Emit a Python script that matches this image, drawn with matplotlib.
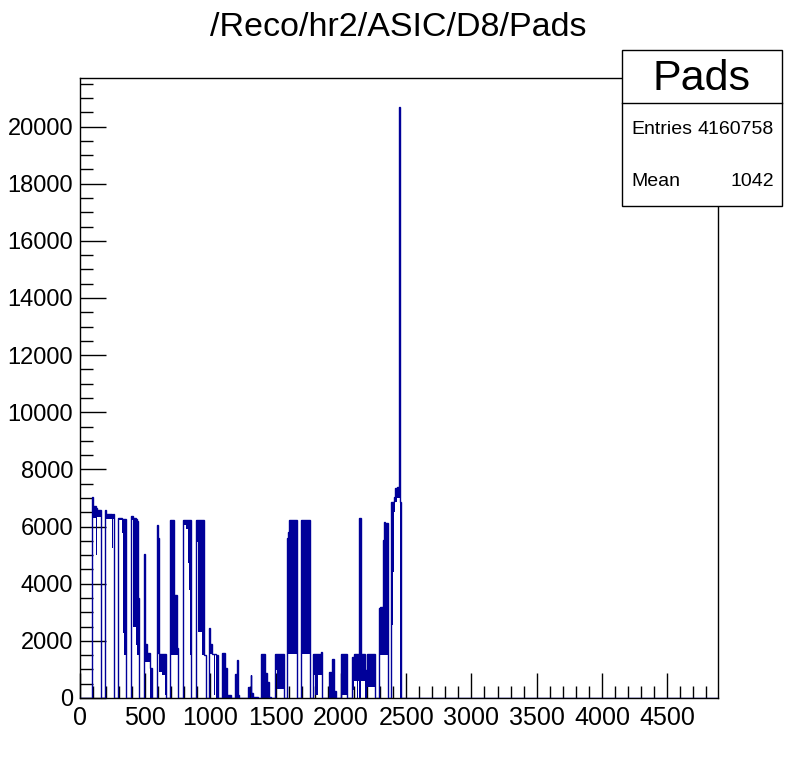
import numpy as np
import matplotlib
matplotlib.use("Agg")
import matplotlib.pyplot as plt
from matplotlib.patches import Rectangle
from matplotlib.lines import Line2D
from matplotlib.ticker import MultipleLocator

plt.rcParams['font.family'] = ['Liberation Sans', 'DejaVu Sans']

title = "/Reco/hr2/ASIC/D8/Pads"
stats_name = "Pads"
entries = "4160758"
mean = "1042"

# Runs of the histogram: [start, end) in pad units,
# upper and lower envelope of the (dense) bin contents inside each run
run_start = [0, 94, 97, 122, 127, 159, 192, 196, 243, 250, 259, 294, 320, 328, 338, 351,
             394, 409, 427, 440, 447, 455, 494, 499, 517, 520, 524, 537, 555, 593, 597, 606,
             625, 629, 655, 660, 693, 724, 744, 754, 791, 811, 827, 839, 844, 852, 890, 908,
             934, 954, 962, 990, 995, 1010, 1025, 1031, 1041, 1057, 1090, 1115, 1128, 1159,
             1190, 1200, 1210, 1218, 1287, 1295, 1307, 1312, 1325, 1364, 1389, 1420, 1435,
             1450, 1461, 1491, 1512, 1563, 1589, 1596, 1603, 1665, 1691, 1760, 1788, 1800,
             1828, 1845, 1857, 1909, 1921, 1934, 1947, 1959, 1998, 2049, 2088, 2100, 2121,
             2134, 2141, 2151, 2185, 2203, 2264, 2289, 2300, 2320, 2328, 2338, 2346, 2359,
             2385, 2397, 2410, 2418, 2433, 2443, 2454, 2464]
x_max = 4890
run_high = [0, 7040, 6720, 6650, 6580, 0, 6576, 6450, 6420, 6430, 0, 6300, 6280, 6280, 6250, 0,
            6366, 6300, 6250, 6200, 3486, 0, 5037, 1890, 1560, 1560, 1560, 1040, 0, 6050, 5585, 1540,
            1540, 1540, 1540, 0, 6226, 3600, 1740, 0, 6226, 6226, 6226, 6226, 6226, 0, 6226, 6226,
            6226, 1504, 0, 2437, 1877, 1540, 1540, 1540, 1504, 0, 1560, 1040, 120, 0,
            830, 1330, 100, 0, 400, 0, 805, 160, 50, 0, 1540, 860, 570,
            50, 0, 1540, 1540, 0, 5585, 5820, 6226, 0, 6226, 0, 1540, 1540,
            1540, 1620, 0, 920, 340, 1350, 230, 0, 1540, 0, 1440, 1540, 1540,
            1540, 6284, 1540, 980, 1540, 0, 3136, 3200, 5527, 6168, 6051, 6110, 0,
            6868, 6868, 7040, 7340, 7400, 20675, 6870, 0]
run_low = [0, 6290, 6290, 5000, 6340, 0, 6226, 6260, 5235, 6260, 0, 6230, 5760, 2270, 1504, 0,
           6230, 2495, 1850, 1504, 1504, 0, 1620, 1270, 1270, 128, 1270, 0, 0, 1540, 1540, 920,
           150, 800, 100, 0, 1504, 1504, 1504, 0, 6050, 5900, 4710, 3778, 1504, 0, 5470, 2320,
           1504, 1504, 0, 1560, 1540, 1540, 100, 1500, 0, 0, 0, 0, 0, 0,
           0, 0, 0, 0, 0, 0, 0, 0, 0, 0, 0, 0, 0,
           0, 0, 980, 300, 0, 1540, 1540, 1540, 0, 1540, 0, 805, 100,
           805, 805, 0, 0, 0, 0, 0, 0, 100, 0, 280, 600, 0,
           600, 0, 600, 0, 400, 0, 1504, 1504, 1504, 1504, 1504, 1504, 0,
           2554, 4420, 6500, 6870, 6990, 7000, 0, 0]

x_ticks = [0, 500, 1000, 1500, 2000, 2500, 3000, 3500, 4000, 4500]
y_ticks = [0, 2000, 4000, 6000, 8000, 10000, 12000, 14000, 16000, 18000, 20000]
y_max = 21700

W, H = 798, 776
fig = plt.figure(figsize=(W / 100, H / 100), dpi=100)
ax = fig.add_axes([80 / W, 1 - 698 / H, 638 / W, 620 / H])

color = "#000099"
edges = np.array(run_start + [x_max], dtype=float)
hi = np.array(run_high, dtype=float)
lo = np.array(run_low, dtype=float)

ax.stairs(hi, edges, baseline=lo, fill=True, color=color, lw=0, zorder=2)
ax.stairs(hi, edges, baseline=None, color=color, lw=1.0, zorder=3)

ax.set_xlim(0, x_max)
ax.set_ylim(0, y_max)
ax.set_xticks(x_ticks)
ax.set_yticks(y_ticks)
ax.xaxis.set_minor_locator(MultipleLocator(100))
ax.yaxis.set_minor_locator(MultipleLocator(500))
ax.tick_params(axis='both', which='both', direction='in', top=False, right=False,
               color='black', width=1)
ax.tick_params(axis='x', which='major', length=18, pad=6, labelsize=18)
ax.tick_params(axis='x', which='minor', length=9)
ax.tick_params(axis='y', which='major', length=19, pad=5, labelsize=17)
ax.tick_params(axis='y', which='minor', length=9)
for s in ax.spines.values():
    s.set_linewidth(1)
    s.set_color('black')

fig.text(398 / W, 1 - 28 / H, title, ha='center', va='center', fontsize=24.5)

# Statistics box
bx0, by0, bx1, by1 = 622, 50, 782, 206
fig.patches.append(Rectangle((bx0 / W, 1 - by1 / H), (bx1 - bx0) / W, (by1 - by0) / H,
                             transform=fig.transFigure, facecolor='white', edgecolor='black',
                             lw=1, zorder=5))
fig.lines.append(Line2D([bx0 / W, bx1 / W], [1 - 103 / H, 1 - 103 / H],
                        transform=fig.transFigure, color='black', lw=1, zorder=6))
fig.text((bx0 + bx1) / 2 / W, 1 - 79 / H, stats_name, ha='center', va='center',
         fontsize=31, zorder=7)
fig.text(631 / W, 1 - 130 / H, "Entries", ha='left', va='center', fontsize=14, zorder=7)
fig.text(774 / W, 1 - 130 / H, entries, ha='right', va='center', fontsize=14, zorder=7)
fig.text(631 / W, 1 - 182 / H, "Mean", ha='left', va='center', fontsize=14, zorder=7)
fig.text(774 / W, 1 - 182 / H, mean, ha='right', va='center', fontsize=14, zorder=7)

fig.savefig("out.png", dpi=100, facecolor='white')
